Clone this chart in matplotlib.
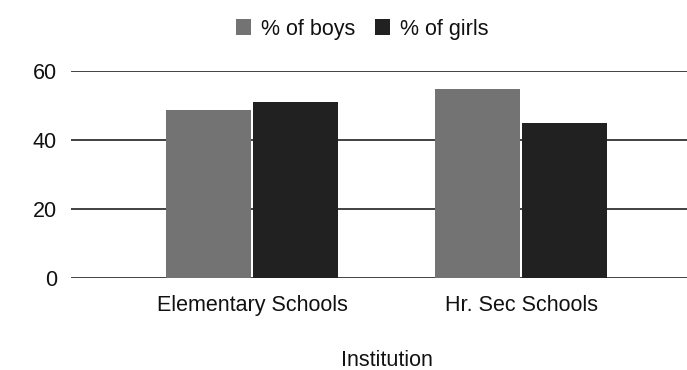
import matplotlib.pyplot as plt
import numpy as np

# dane
institutions = ['Elementary Schools', 'Hr. Sec Schools']
boys = [48.5, 54.8]
girls = [51.0, 44.8]
yticks = [0, 20, 40, 60]

plt.rcParams['font.family'] = ['Liberation Sans', 'DejaVu Sans']
FS = 15.5
TXT = '#111111'

fig = plt.figure(figsize=(6.87, 3.70), dpi=100)
ax = fig.add_axes([70.7 / 687, 1 - 278.3 / 370, 1 - 70.7 / 687, (278.3 - 70.7) / 370])

x = np.arange(len(institutions))
w = 0.316
ax.bar(x - w / 2 - 0.004, boys, w, color='#737373', edgecolor='none', label='% of boys', zorder=3)
ax.bar(x + w / 2 + 0.004, girls, w, color='#212121', edgecolor='none', label='% of girls', zorder=3)

ax.set_xlim(-0.674, 1.617)
ax.set_ylim(0, 60)
ax.set_yticks(yticks)
ax.set_xticks(x)
ax.set_xticklabels(institutions)
ax.tick_params(length=0, labelsize=FS, colors=TXT)
ax.tick_params(axis='y', pad=10)
ax.tick_params(axis='x', pad=12)

for t in yticks:
    ax.axhline(t, color='#333333', lw=1.3, zorder=1)
for s in ax.spines.values():
    s.set_visible(False)

fig.text(386.7 / 687, 1 - 361 / 370, 'Institution', ha='center', va='center', fontsize=FS, color=TXT)
fig.legend(loc='center', bbox_to_anchor=(362.5 / 687, 1 - 29 / 370), ncol=2, frameon=False,
           fontsize=FS, handlelength=0.7, handleheight=0.7, handletextpad=0.47, columnspacing=0.9,
           labelcolor=TXT)

plt.savefig('out.png', dpi=100)
